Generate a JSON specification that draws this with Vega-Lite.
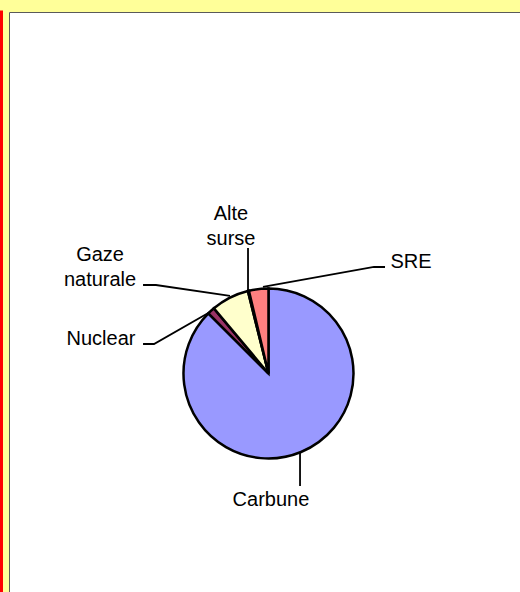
{
  "$schema": "https://vega.github.io/schema/vega-lite/v6.json",
  "width": 511,
  "height": 580,
  "autosize": "none",
  "padding": {"left": 9, "top": 12, "right": 0, "bottom": 0},
  "background": "#FFFF99",
  "config": {"view": {"fill": "white", "stroke": null}},
  "datasets": {
    "slices": [
      {"category": "Carbune", "value": 87.5, "idx": 1},
      {"category": "Nuclear", "value": 1.4, "idx": 2},
      {"category": "Gaze naturale", "value": 7.2, "idx": 3},
      {"category": "Alte surse", "value": 0.2, "idx": 4},
      {"category": "SRE", "value": 3.7, "idx": 5}
    ],
    "leaders": [
      {"label": "Alte surse", "seq": 1, "lx": -24.1, "ly": 147.6},
      {"label": "Alte surse", "seq": 2, "lx": -24.1, "ly": 97.1},
      {"label": "Gaze naturale", "seq": 1, "lx": -147.6, "ly": 104.1},
      {"label": "Gaze naturale", "seq": 2, "lx": -132.4, "ly": 104.1},
      {"label": "Gaze naturale", "seq": 3, "lx": -45.3, "ly": 91.2},
      {"label": "Nuclear", "seq": 1, "lx": -147.6, "ly": 34.7},
      {"label": "Nuclear", "seq": 2, "lx": -134.7, "ly": 34.7},
      {"label": "Nuclear", "seq": 3, "lx": -68.8, "ly": 72.4},
      {"label": "SRE", "seq": 1, "lx": 137.1, "ly": 125.3},
      {"label": "SRE", "seq": 2, "lx": 124.1, "ly": 125.3},
      {"label": "SRE", "seq": 3, "lx": -6.5, "ly": 101.8},
      {"label": "Carbune", "seq": 1, "lx": 37.1, "ly": -93.5},
      {"label": "Carbune", "seq": 2, "lx": 37.1, "ly": -132.4}
    ],
    "labels": [
      {"text": "Alte\nsurse", "lx": -44.1, "ly": 180.6},
      {"text": "Gaze\nnaturale", "lx": -198.2, "ly": 132.7},
      {"text": "Nuclear", "lx": -197.1, "ly": 33.5},
      {"text": "SRE", "lx": 167.6, "ly": 124.5},
      {"text": "Carbune", "lx": 2.9, "ly": -155.5}
    ]
  },
  "layer": [
    {
      "data": {"name": "leaders"},
      "mark": {"type": "line", "color": "black", "strokeWidth": 1.8, "clip": false},
      "encoding": {
        "x": {"field": "lx", "type": "quantitative", "title": null,
              "scale": {"domain": [-305.3, 295.9], "nice": false, "zero": false},
              "axis": {"orient": "top", "domain": true, "domainColor": "#5a5a5a", "domainWidth": 1,
                       "ticks": false, "labels": false, "grid": true, "gridColor": "#5a5a5a",
                       "gridOpacity": 1, "gridWidth": 1, "values": [-305.3], "title": null}},
        "y": {"field": "ly", "type": "quantitative", "title": null,
              "scale": {"domain": [-257.1, 425.3], "nice": false, "zero": false},
              "axis": {"orient": "left", "domain": true, "domainColor": "#FF0000", "domainWidth": 3,
                       "domainCap": "square", "offset": 7.5, "translate": 0,
                       "ticks": false, "labels": false, "grid": false, "title": null}},
        "detail": {"field": "label"},
        "order": {"field": "seq"}
      }
    },
    {
      "data": {"name": "slices"},
      "mark": {"type": "arc", "radius": 85, "stroke": "black", "strokeWidth": 2.5},
      "encoding": {
        "x": {"datum": 0, "type": "quantitative", "title": null},
        "y": {"datum": 0, "type": "quantitative", "title": null},
        "theta": {"field": "value", "type": "quantitative", "stack": true},
        "order": {"field": "idx"},
        "color": {"field": "category", "type": "nominal", "legend": null,
                  "scale": {"domain": ["Carbune", "Nuclear", "Gaze naturale", "Alte surse", "SRE"],
                            "range": ["#9999FF", "#993366", "#FFFFCC", "#CCFFFF", "#FF8080"]}}
      }
    },
    {
      "data": {"name": "labels"},
      "mark": {"type": "text", "font": "Liberation Sans", "fontSize": 20, "align": "center",
               "baseline": "alphabetic", "lineBreak": "\n", "lineHeight": 25, "color": "black"},
      "encoding": {
        "x": {"field": "lx", "type": "quantitative", "title": null},
        "y": {"field": "ly", "type": "quantitative", "title": null},
        "text": {"field": "text"}
      }
    }
  ]
}
